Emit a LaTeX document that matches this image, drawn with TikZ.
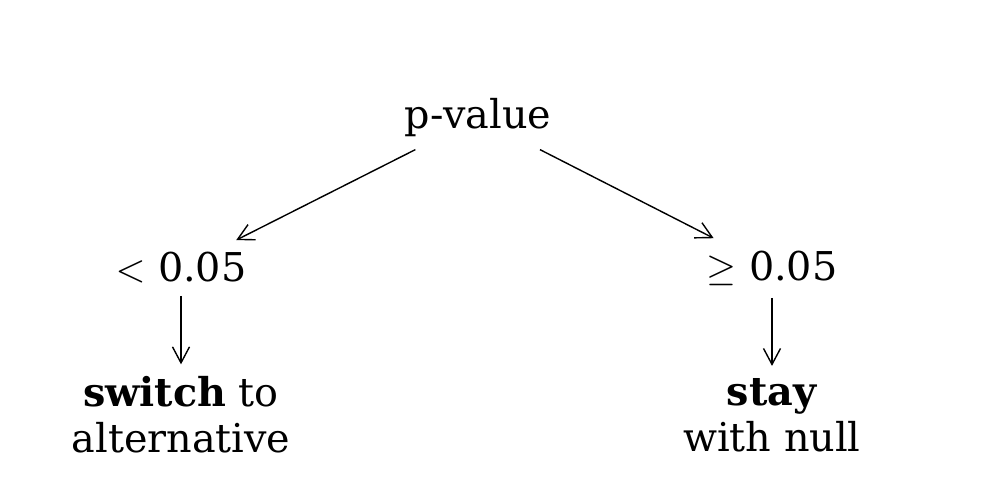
\documentclass[tikz,border=0pt]{standalone}
\usepackage{fontspec}
\setmainfont{DejaVu Serif}
\usepackage{amsmath}
\usepackage{tikz}
\usetikzlibrary{positioning,arrows.meta}

\begin{document}
\begin{tikzpicture}[
  label/.style={align=center,font=\fontsize{11.3}{13}\selectfont},
  link/.style={-{Straight Barb[length=1.6mm,width=1.7mm]}},
]
\useasboundingbox (0,0) rectangle (9.98,4.86);

% Top
\node[label] (pval) at (4.78,3.68) {p-value};

% Thresholds
\node[label] (lower) at (1.81,2.18) {$<$ 0.05};
\node[label] (upper) at (7.72,2.18) {$\geq$ 0.05};

% Decisions
\node[label] (switch) at (1.81,0.71) {\textbf{switch} to\\alternative};
\node[label] (stay) at (7.72,0.71) {\textbf{stay}\\with null};

% Connections
\draw[link] (pval) -- (lower);
\draw[link] (pval) -- (upper);
\draw[link] (lower) -- (switch);
\draw[link] (upper) -- (stay);

\end{tikzpicture}
\end{document}
